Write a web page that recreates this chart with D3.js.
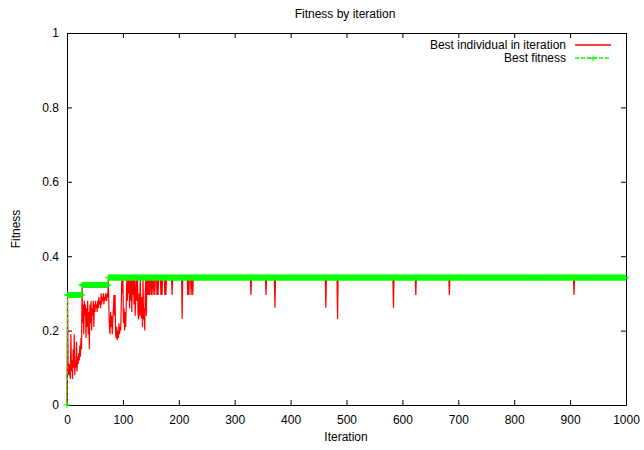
<!DOCTYPE html>
<html>
<head>
<meta charset="utf-8">
<script src="https://cdn.jsdelivr.net/npm/d3@7"></script>
<style>
  html, body { margin: 0; padding: 0; background: #fff; }
  svg { display: block; font-family: "Liberation Sans", Arial, Helvetica, sans-serif; }
</style>
</head>
<body>
<svg id="chart" width="644" height="450"></svg>
<script>
// Number of GA iterations in the run
const iterationCount = 1000;

// Best fitness so far: step changes (iteration where each new level starts)
const bestStepStart = [0, 1, 27, 74];
const bestStepValue = [0, 0.2957, 0.3226, 0.3425];

// Fitness of the best individual of each iteration, iterations 0..149
const earlyBestIndividual = [
  0, 0.2957, 0.10, 0.08, 0.11, 0.09, 0.07, 0.19, 0.09, 0.12,
  0.07, 0.15, 0.10, 0.19, 0.08, 0.12, 0.10, 0.17, 0.09, 0.13,
  0.11, 0.14, 0.12, 0.16, 0.13, 0.18, 0.15, 0.3226, 0.22, 0.27,
  0.19, 0.28, 0.24, 0.27, 0.18, 0.26, 0.21, 0.28, 0.19, 0.25,
  0.15, 0.27, 0.22, 0.28, 0.20, 0.26, 0.24, 0.28, 0.21, 0.27,
  0.25, 0.28, 0.26, 0.27, 0.25, 0.28, 0.26, 0.29, 0.27, 0.28,
  0.26, 0.30, 0.27, 0.29, 0.28, 0.30, 0.27, 0.29, 0.28, 0.30,
  0.29, 0.28, 0.30, 0.29, 0.3425, 0.25, 0.21, 0.19, 0.25, 0.21,
  0.24, 0.19, 0.23, 0.26, 0.2957, 0.24, 0.2957, 0.19, 0.18, 0.21,
  0.175, 0.20, 0.18, 0.22, 0.19, 0.21, 0.20, 0.26, 0.3425, 0.30,
  0.3425, 0.22, 0.26, 0.20, 0.25, 0.21, 0.27, 0.3425, 0.28, 0.3425,
  0.30, 0.3425, 0.26, 0.3425, 0.28, 0.3425, 0.25, 0.3425, 0.2957, 0.3425,
  0.27, 0.3425, 0.24, 0.2957, 0.3425, 0.28, 0.3425, 0.25, 0.23, 0.30,
  0.24, 0.3425, 0.26, 0.233, 0.29, 0.21, 0.3425, 0.23, 0.26, 0.20,
  0.2957, 0.3425, 0.24, 0.3425, 0.2957, 0.3425, 0.2957, 0.3425, 0.2957, 0.3425
];

// Later iterations whose best individual fell below the best fitness
const dipIteration = [151, 154, 157, 161, 163, 168, 170, 175, 177, 188, 206, 216, 218, 222, 225,
                      329, 356, 372, 463, 484, 584, 624, 684, 907];
const dipValue     = [0.2957, 0.2957, 0.2957, 0.2957, 0.2957, 0.2957, 0.2957, 0.2957, 0.2957, 0.2957,
                      0.231, 0.2957, 0.2957, 0.2957, 0.2957,
                      0.2957, 0.2957, 0.2616, 0.2616, 0.231, 0.2616, 0.2957, 0.2957, 0.2957];

// Axis ticks
const xTicks = [0, 100, 200, 300, 400, 500, 600, 700, 800, 900, 1000];
const yTicks = [0, 0.2, 0.4, 0.6, 0.8, 1];

// Build the two series
const bestFitness = d3.range(iterationCount).map(i => {
  let v = bestStepValue[0];
  bestStepStart.forEach((s, k) => { if (i >= s) v = bestStepValue[k]; });
  return { i, v };
});
const dipMap = new Map(dipIteration.map((it, k) => [it, dipValue[k]]));
const bestIndividual = d3.range(iterationCount).map(i => {
  let v;
  if (i < earlyBestIndividual.length) v = earlyBestIndividual[i];
  else if (dipMap.has(i)) v = dipMap.get(i);
  else v = bestFitness[i].v;
  return { i, v };
});

const svg = d3.select("#chart");
const W = 644, H = 450;
const margin = { left: 67, right: 18, top: 33, bottom: 45 };
const x = d3.scaleLinear().domain([0, 1000]).range([margin.left, W - margin.right]);
const y = d3.scaleLinear().domain([0, 1]).range([H - margin.bottom, margin.top]);

const fontSize = 12;
const tickLen = 5;

// Title and axis labels
svg.append("text").attr("x", 345).attr("y", 18).attr("text-anchor", "middle")
  .attr("font-size", fontSize).attr("fill", "#000").text("Fitness by iteration");
svg.append("text").attr("x", 346).attr("y", 441).attr("text-anchor", "middle")
  .attr("font-size", fontSize).attr("fill", "#000").text("Iteration");
svg.append("text").attr("transform", "translate(20,229) rotate(-90)").attr("text-anchor", "middle")
  .attr("font-size", fontSize).attr("fill", "#000").text("Fitness");

// Axes with inward ticks, mirrored on top/right
const gx = svg.append("g").attr("transform", `translate(0,${y(0)})`)
  .call(d3.axisBottom(x).tickValues(xTicks).tickSize(-tickLen).tickSizeOuter(0).tickPadding(10).tickFormat(d3.format("d")));
const gy = svg.append("g").attr("transform", `translate(${x(0)},0)`)
  .call(d3.axisLeft(y).tickValues(yTicks).tickSize(-tickLen).tickSizeOuter(0).tickPadding(8).tickFormat(d => d3.format("")(d)));
const gt = svg.append("g").attr("transform", `translate(0,${y(1)})`)
  .call(d3.axisTop(x).tickValues(xTicks).tickSize(-tickLen).tickSizeOuter(0).tickFormat(""));
const gr = svg.append("g").attr("transform", `translate(${x(1000)},0)`)
  .call(d3.axisRight(y).tickValues(yTicks).tickSize(-tickLen).tickSizeOuter(0).tickFormat(""));
[gx, gy, gt, gr].forEach(g => {
  g.selectAll("text").attr("font-size", fontSize).attr("font-family", "Liberation Sans, Arial, sans-serif").attr("fill", "#000");
  g.selectAll("line").attr("stroke", "#000");
  g.select(".domain").attr("stroke", "#000");
});

// Series: best individual (red line), best fitness (green dashed line with + points)
const line = d3.line().x(d => x(d.i)).y(d => y(d.v));
svg.append("path").datum(bestIndividual)
  .attr("d", line).attr("fill", "none").attr("stroke", "#ff0000").attr("stroke-width", 1.2);

svg.append("path").datum(bestFitness)
  .attr("d", line).attr("fill", "none").attr("stroke", "#00ff00").attr("stroke-width", 1)
  .attr("stroke-dasharray", "4,2");

const plus = (cx, cy) => `M${cx - 3.5},${cy}H${cx + 3.5}M${cx},${cy - 3}V${cy + 3}`;
svg.append("path")
  .attr("d", bestFitness.map(d => plus(x(d.i), y(d.v))).join(""))
  .attr("fill", "none").attr("stroke", "#00ff00").attr("stroke-width", 1);

// Legend
const legendX = 566, sampleX0 = 575, sampleX1 = 611;
const legendRows = [
  { label: "Best individual in iteration", color: "#ff0000", dash: "none", marker: false, y: 45 },
  { label: "Best fitness", color: "#00ff00", dash: "4,2", marker: true, y: 58 }
];
legendRows.forEach(r => {
  svg.append("text").attr("x", legendX).attr("y", r.y + 4).attr("text-anchor", "end")
    .attr("font-size", fontSize).attr("fill", "#000").text(r.label);
  svg.append("path").attr("d", `M${sampleX0},${r.y}H${sampleX1}`)
    .attr("fill", "none").attr("stroke", r.color).attr("stroke-width", 1.5)
    .attr("stroke-dasharray", r.dash);
  if (r.marker) {
    svg.append("path").attr("d", plus((sampleX0 + sampleX1) / 2, r.y + 0.5))
      .attr("stroke", r.color).attr("fill", "none");
  }
});
</script>
</body>
</html>
